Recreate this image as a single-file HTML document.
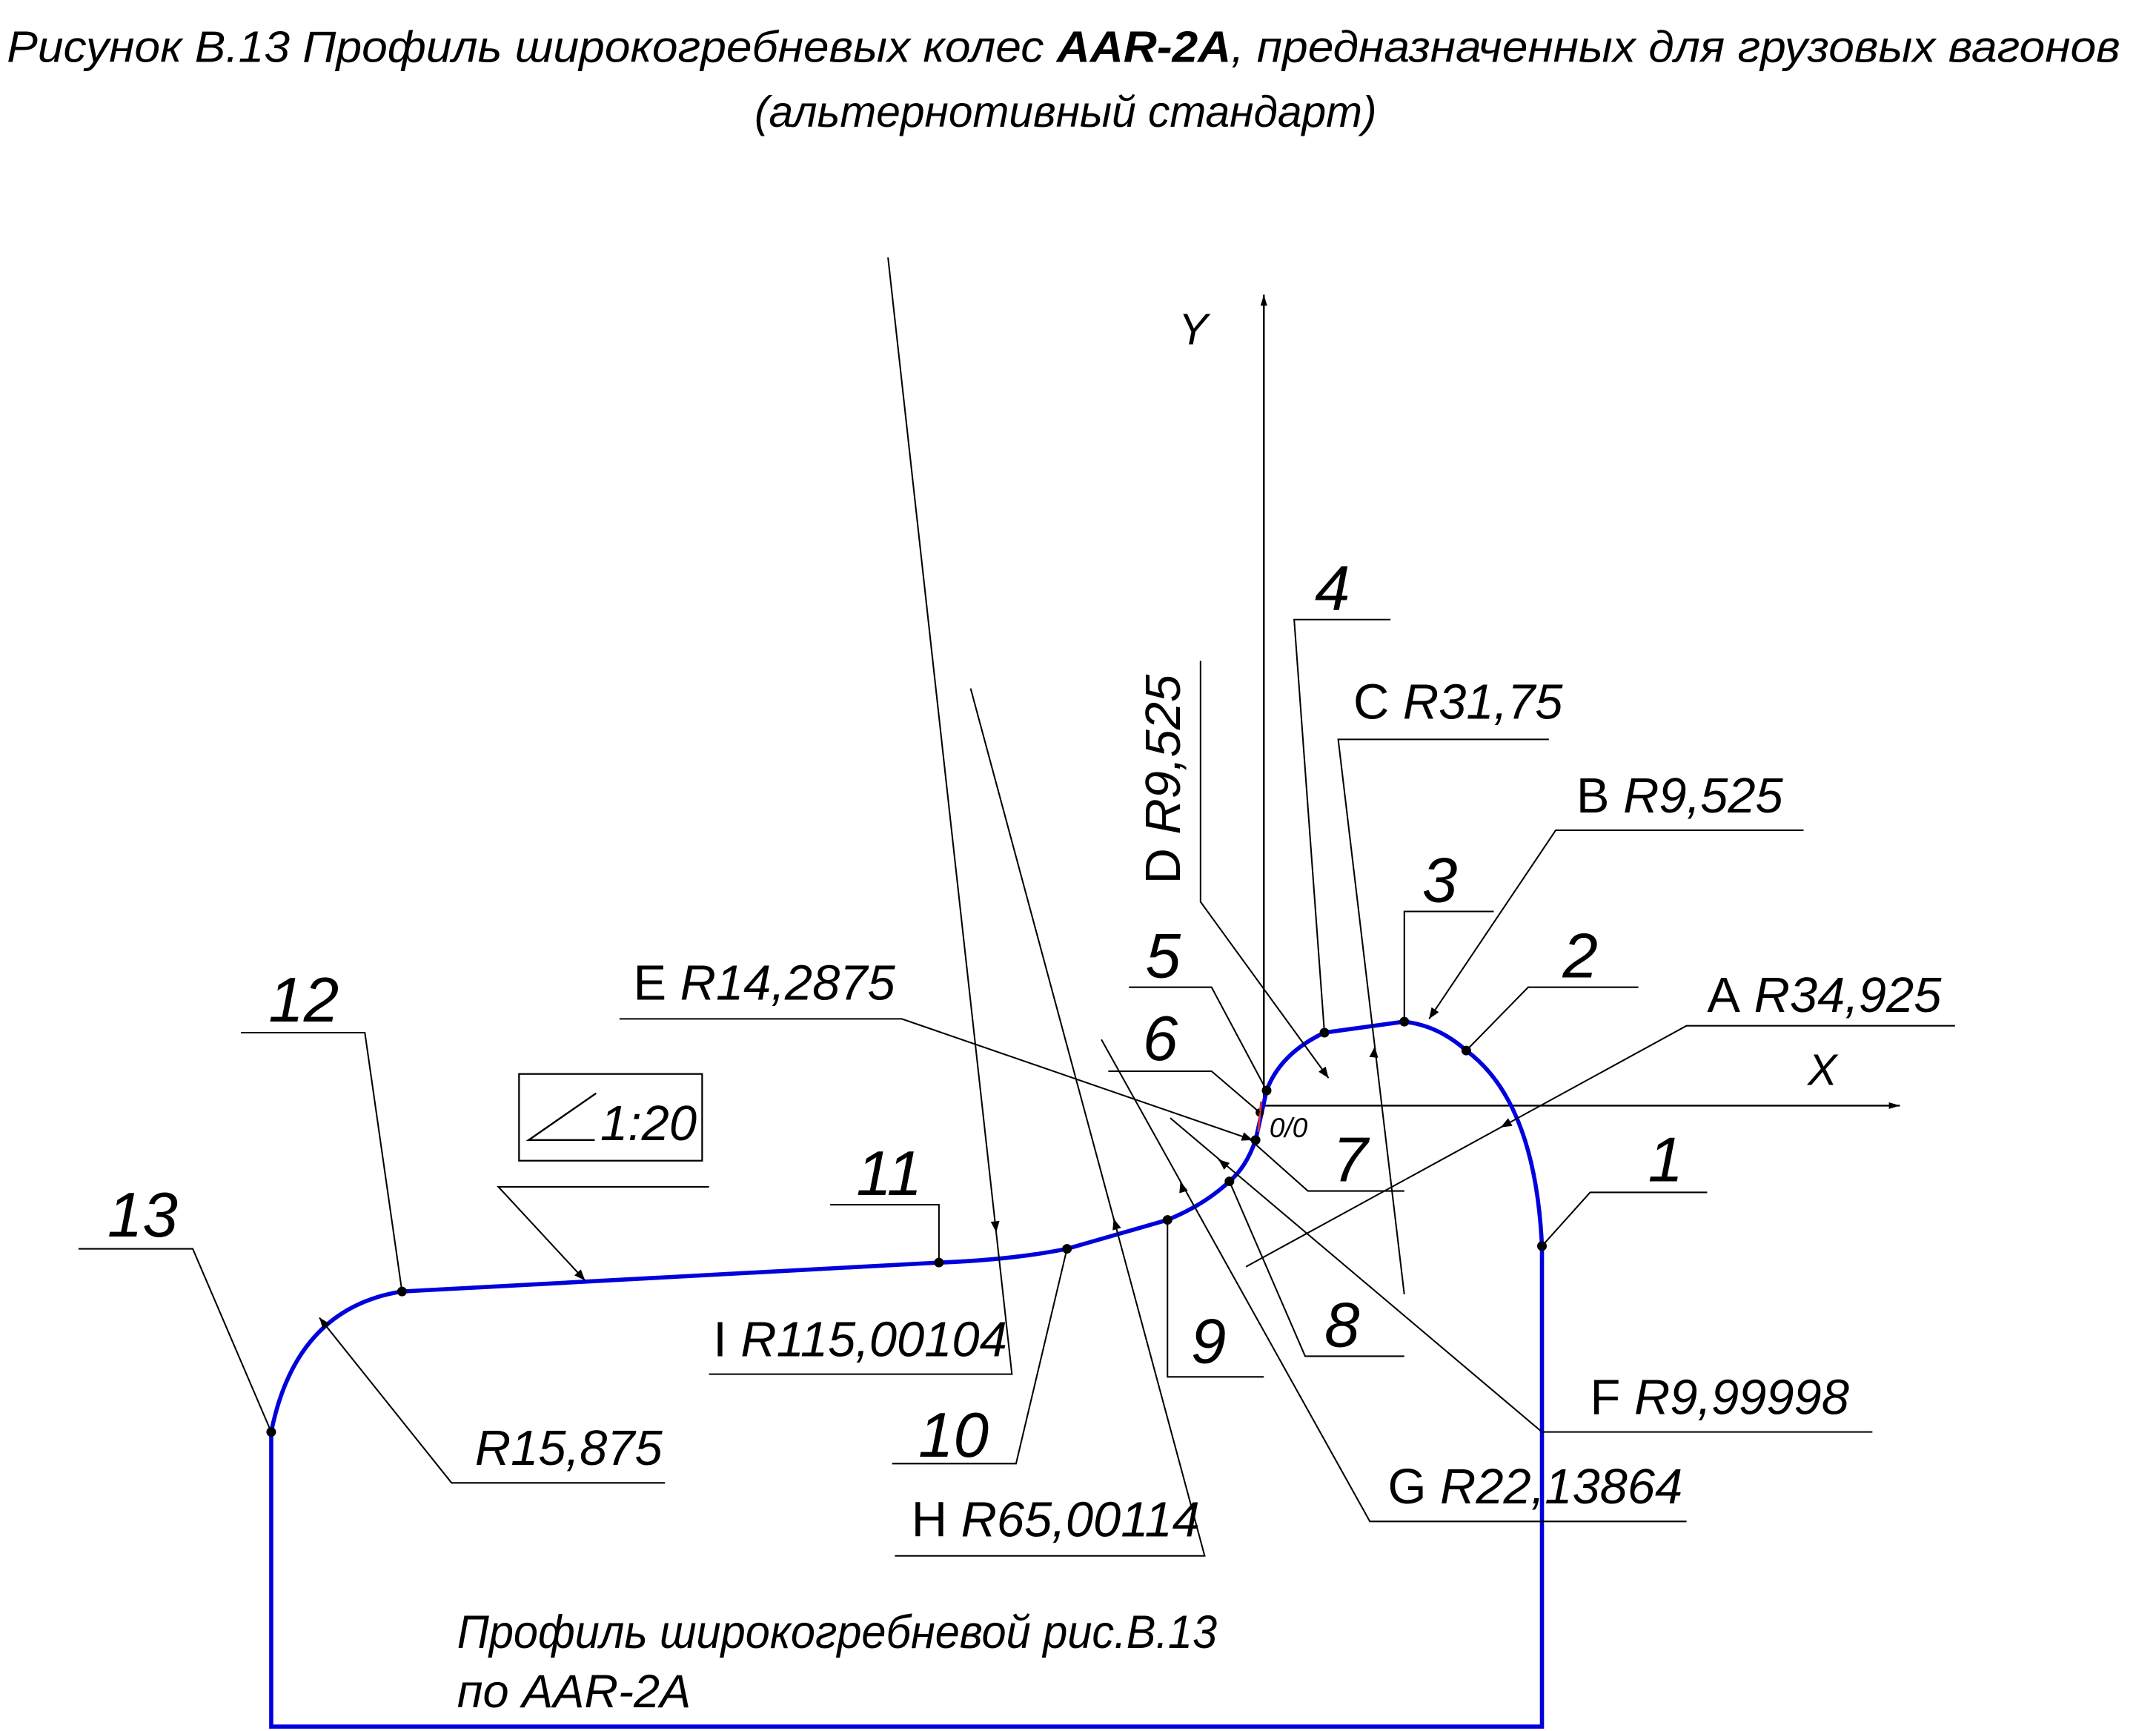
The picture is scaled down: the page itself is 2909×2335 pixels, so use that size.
<!DOCTYPE html>
<html><head><meta charset="utf-8"><style>
html,body{margin:0;padding:0;background:#fff}
svg{display:block}
text{font-family:"Liberation Sans",sans-serif;font-style:italic;fill:#000}
</style></head><body>
<svg width="2909" height="2335" viewBox="0 0 1566 1257.2" preserveAspectRatio="none" xmlns="http://www.w3.org/2000/svg">
<defs>
<marker id="ar" viewBox="0 0 10 10" refX="10" refY="5" markerWidth="22" markerHeight="8" markerUnits="userSpaceOnUse" orient="auto"><path d="M0,1 L10,5 L0,9 z" fill="#000"/></marker>
<marker id="ax" viewBox="0 0 10 10" refX="10" refY="5" markerWidth="26" markerHeight="8" markerUnits="userSpaceOnUse" orient="auto"><path d="M0,2 L10,5 L0,8 z" fill="#000"/></marker>
</defs>
<text x="5" y="45" font-size="32" textLength="1535" lengthAdjust="spacingAndGlyphs">Рисунок В.13 Профиль широкогребневых колес <tspan font-weight="bold">AAR-2A</tspan>, предназначенных для грузовых вагонов</text>
<text x="548" y="92" font-size="32" textLength="452" lengthAdjust="spacingAndGlyphs">(альтернотивный стандарт)</text>

<g stroke="#000" stroke-width="1.3">
<line x1="918" y1="805" x2="918" y2="214" marker-end="url(#ax)"/>
<line x1="918" y1="803" x2="1380" y2="803" marker-end="url(#ax)"/>
</g>
<text x="856" y="250" font-size="32">Y</text>
<text x="1313" y="788" font-size="32">X</text>

<path fill="none" stroke="#0000dd" stroke-width="3"
d="M197,1040 L197,1254 L1120,1254 L1120,905 Q1115,800 1065,763 Q1045,745 1020,742 L962,750 Q930,765 920,792 L912,828 Q905,848 893,858 Q875,875 848,886 L775,907 Q735,915 682,917 L292,938 Q215,950 197,1040"/>
<g fill="#000">
<circle cx="1120" cy="905" r="3.5"/><circle cx="1065" cy="763" r="3.5"/><circle cx="1020" cy="742" r="3.5"/><circle cx="962" cy="750" r="3.5"/><circle cx="920" cy="792" r="3.5"/><circle cx="915" cy="808" r="3"/><circle cx="912" cy="828" r="3.5"/><circle cx="893" cy="858" r="3.5"/><circle cx="848" cy="886" r="3.5"/><circle cx="775" cy="907" r="3.5"/><circle cx="682" cy="917" r="3.5"/><circle cx="292" cy="938" r="3.5"/><circle cx="197" cy="1040" r="3.5"/>
</g>
<line x1="916" y1="800" x2="914" y2="822" stroke="#d33" stroke-width="1.5"/>
<text x="922" y="826" font-size="20">0/0</text>

<g stroke="#000" stroke-width="1.1" fill="none">
<path d="M57,907 H140 L197,1040"/>
<path d="M175,750 H265 L292,938"/>
<path d="M603,875 H682 V917"/>
<path d="M648,1063 H738 L775,907"/>
<path d="M918,1000 H848 V886"/>
<path d="M1020,985 H948 L893,858"/>
<path d="M1020,865 H950 L905,825"/>
<path d="M805,778 H880 L915,808"/>
<path d="M820,717 H880 L920,792"/>
<path d="M1010,450 H940 L962,750"/>
<path d="M1085,662 H1020 V742"/>
<path d="M1190,717 H1110 L1065,763"/>
<path d="M1240,866 H1155 L1120,905"/>
<path d="M1420,745 H1225 L905,920"/>
<path d="M1310,603 H1130 L1038,740" marker-end="url(#ar)"/>
<path d="M1125,537 H972 L1020,940"/>
<path d="M872,480 V655 L965,783" marker-end="url(#ar)"/>
<path d="M450,740 H655 L910,828" marker-end="url(#ar)"/>
<path d="M1360,1040 H1120 L850,812"/>
<path d="M1225,1105 H995 L800,755"/>
<path d="M650,1130 H875 L705,500"/>
<path d="M515,998 H735 L645,187"/>
<path d="M483,1077 H328 L232,957" marker-end="url(#ar)"/>
<path d="M515,862 H362 L425,930" marker-end="url(#ar)"/>
</g>
<g stroke="#000" stroke-width="1.1">
<line x1="1091.8" y1="817.8" x2="1090" y2="818.8" marker-end="url(#ar)"/>
<line x1="998.4" y1="762" x2="998.6" y2="760" marker-end="url(#ar)"/>
<line x1="886.2" y1="843" x2="885" y2="842" marker-end="url(#ar)"/>
<line x1="858" y1="860" x2="857.4" y2="858" marker-end="url(#ar)"/>
<line x1="809.5" y1="887" x2="808.9" y2="885" marker-end="url(#ar)"/>
<line x1="723.4" y1="893" x2="723.6" y2="895" marker-end="url(#ar)"/>
</g>

<g>
<rect x="377" y="780" width="133" height="63" fill="none" stroke="#000" stroke-width="1.2"/>
<path d="M433,794 L384,828 H432" fill="none" stroke="#000" stroke-width="1.3"/>
<text x="436" y="828" font-size="36">1:20</text>
</g>

<g font-size="46">
<text x="78" y="898">13</text><text x="195" y="742">12</text><text x="622" y="868">11</text>
<text x="667" y="1058">10</text><text x="865" y="990">9</text><text x="962" y="978">8</text>
<text x="968" y="858">7</text><text x="830" y="770">6</text><text x="832" y="710">5</text>
<text x="955" y="443">4</text><text x="1033" y="655">3</text><text x="1135" y="710">2</text><text x="1197" y="858">1</text>
</g>
<g font-size="36">
<text x="1240" y="735"><tspan font-style="normal">A</tspan> R34,925</text>
<text x="1145" y="590"><tspan font-style="normal">B</tspan> R9,525</text>
<text x="983" y="522"><tspan font-style="normal">C</tspan> R31,75</text>
<text transform="translate(857,642) rotate(-90)"><tspan font-style="normal">D</tspan> R9,525</text>
<text x="460" y="726"><tspan font-style="normal">E</tspan> R14,2875</text>
<text x="1155" y="1027"><tspan font-style="normal">F</tspan> R9,99998</text>
<text x="1008" y="1092"><tspan font-style="normal">G</tspan> R22,13864</text>
<text x="662" y="1116"><tspan font-style="normal">H</tspan> R65,00114</text>
<text x="518" y="985"><tspan font-style="normal">I</tspan> R115,00104</text>
<text x="345" y="1064">R15,875</text>
</g>
<text x="332" y="1197" font-size="34" textLength="552" lengthAdjust="spacingAndGlyphs">Профиль широкогребневой рис.В.13</text>
<text x="332" y="1240" font-size="34">по   AAR-2A</text>
</svg>
</body></html>
